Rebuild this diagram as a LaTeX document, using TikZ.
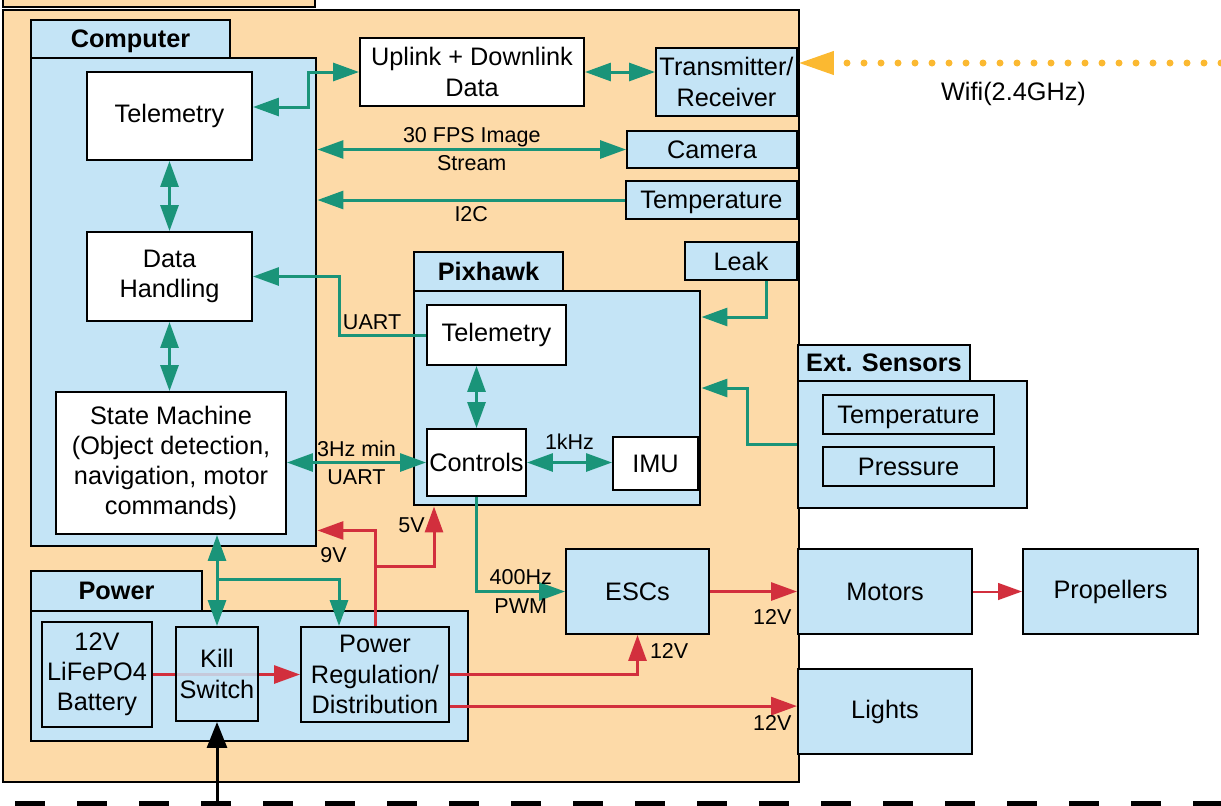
\documentclass[tikz,border=0pt]{standalone}
\usepackage{fontspec}
\setmainfont{Liberation Sans}
\usepackage{tikz}
\usetikzlibrary{arrows.meta,positioning,calc}

\definecolor{peach}{HTML}{FDDAA8}
\definecolor{skyblue}{HTML}{C4E4F6}
\definecolor{sigteal}{HTML}{1A9479}
\definecolor{pwrred}{HTML}{D22F3D}
\definecolor{wifiyel}{HTML}{FBB931}

\begin{document}
\begin{tikzpicture}[x=0.25mm,y=-0.25mm,>={Triangle[length=6.5mm,width=4.5mm]},
  font=\fontsize{18}{21.5}\selectfont,
  encl/.style={draw,line width=2.1pt,inner sep=1pt,align=center},
  tab/.style={encl,fill=skyblue,text depth=0pt,font=\fontsize{18}{21.5}\selectfont\bfseries},
  wbox/.style={draw,line width=1.4pt,fill=white,inner sep=1pt,align=center},
  bbox/.style={wbox,fill=skyblue},
  sig/.style={draw=sigteal,line width=0.75mm},
  pwr/.style={draw=pwrred,line width=0.75mm},
  lbl/.style={font=\fontsize{15.3}{18}\selectfont,inner sep=1pt,text=black}]
  \useasboundingbox (0,0) rectangle (1221,806);
  \clip (0,0) rectangle (1221,806);

  % frame cut off at the top, hull, tether
  \draw[line width=2.1pt,fill=peach] (3,-20) rectangle (315,7);
  \node[encl,fill=peach,minimum width=199mm,minimum height=193mm] (hull) at (401,396) {};
  \draw[line width=1.75mm,dash pattern=on 7.5mm off 8mm,dash phase=11.75mm] (0,804) -- (1221,804);

  \node[tab,minimum width=49.75mm,minimum height=9.5mm] (comptab) at (130.5,39) {Computer};
  \node[encl,fill=skyblue,minimum width=71.25mm,minimum height=122mm] (comp) at (173.5,302) {};
  \node[wbox,minimum width=41.25mm,minimum height=22mm] (ctele) at (169.5,116) {Telemetry};
  \node[wbox,minimum width=41.25mm,minimum height=22.25mm] (data) at (169.5,276.5) {Data\\Handling};
  \node[wbox,minimum width=57.5mm,minimum height=35.5mm] (state) at (171,463) {State Machine\\(Object detection,\\navigation, motor\\commands)};

  \node[wbox,minimum width=56mm,minimum height=17mm] (link) at (472,72) {Uplink + Downlink\\Data};
  \node[bbox,minimum width=35.25mm,minimum height=17mm] (radio) at (726.5,82) {Transmitter/\\Receiver};
  \node[bbox,minimum width=42.5mm,minimum height=9.25mm] (camera) at (712,149.5) {Camera};
  \node[bbox,text depth=0pt,minimum width=42.75mm,minimum height=9.5mm] (itemp) at (711.5,200) {Temperature};
  \node[bbox,minimum width=28mm,minimum height=9.5mm] (leak) at (741,261) {Leak};

  \node[tab,minimum width=37.25mm,minimum height=9.75mm] (pxtab) at (488.5,271.5) {Pixhawk};
  \node[encl,fill=skyblue,minimum width=71.5mm,minimum height=53.5mm] (px) at (557,398) {};
  \node[wbox,minimum width=34.75mm,minimum height=15mm] (ptele) at (496.5,335) {Telemetry};
  \node[wbox,minimum width=24.75mm,minimum height=16.75mm] (ctrl) at (476.5,462.5) {Controls};
  \node[wbox,minimum width=21.25mm,minimum height=13.25mm] (imu) at (655.5,463.5) {IMU};

  \node[tab,minimum width=43mm,minimum height=9mm] (exttab) at (884,363) {Ext. Sensors};
  \node[encl,fill=skyblue,minimum width=57.25mm,minimum height=31.75mm] (ext) at (912.5,444.5) {};
  \node[bbox,text depth=0pt,minimum width=42.75mm,minimum height=9.75mm] (etemp) at (908.5,414.5) {Temperature};
  \node[bbox,minimum width=42.75mm,minimum height=9.75mm] (press) at (908.5,466.5) {Pressure};

  \node[tab,minimum width=42.75mm,minimum height=10mm] (pwrtab) at (116.5,591) {Power};
  \node[encl,fill=skyblue,minimum width=109.25mm,minimum height=32.5mm] (pwr) at (249.5,676) {};
  \node[bbox,minimum width=27.5mm,minimum height=26.25mm] (batt) at (97,674.5) {12V\\LiFePO4\\Battery};
  \node[bbox,minimum width=37mm,minimum height=23.75mm] (reg) at (375,674.5) {Power\\Regulation/\\Distribution};
  \draw[pwr,->] (batt.east) -- (reg.west);
  \node[bbox,fill opacity=0.85,text opacity=1,minimum width=20.5mm,minimum height=23.5mm] (kill) at (217,674) {Kill\\Switch};

  \node[bbox,minimum width=35.75mm,minimum height=21.25mm] (esc) at (637.5,591.5) {ESCs};
  \node[bbox,minimum width=43.5mm,minimum height=21.25mm] (motor) at (885,591.5) {Motors};
  \node[bbox,minimum width=43.75mm,minimum height=21.25mm] (prop) at (1110.5,591.5) {Propellers};
  \node[bbox,minimum width=43.5mm,minimum height=21.25mm] (light) at (885,711.5) {Lights};

  % data links
  \draw[sig,<->] ([yshift=2.25mm]ctele.east) -- ++(56,0) |- (link.west);
  \draw[sig,<->] (link.east) -- (link.east -| radio.west);
  \draw[sig,<->] (comp.east |- camera.west) -- node[lbl,above=-0.2mm]{30 FPS Image} node[lbl,below=0.8mm]{Stream} (camera.west);
  \draw[sig,->] (itemp.west) -- node[lbl,below=0.8mm]{I2C} (itemp.west -| comp.east);
  \draw[sig,<->] (ctele.south) -- (data.north);
  \draw[sig,<->] (data.south) -- (data.south |- state.north);
  \draw[sig,->] (ptele.west) -- node[lbl,pos=0.62,above=0.6mm]{UART} ++(-87,0) |- (data.east);
  \draw[sig,<->] (state.east |- ctrl.west) -- node[lbl,above=0.6mm]{3Hz min} node[lbl,below=1mm]{UART} (ctrl.west);
  \draw[sig,<->] (ctrl.north |- ptele.south) -- (ctrl.north);
  \draw[sig,<->] (ctrl.east) -- node[lbl,above=2.5mm]{1kHz} (ctrl.east -| imu.west);
  \draw[sig,->] ([xshift=6.25mm]leak.south) |- ([yshift=20.25mm]px.east);
  \draw[sig,->] (ext.west) -- ++(-49,0) |- ([yshift=2.5mm]px.east);
  \draw[sig,->] (ctrl.south) |- node[lbl,pos=0.75,above=1mm]{400Hz} node[lbl,pos=0.75,below=1mm]{PWM} (esc.west);
  \draw[sig,<->] (kill.north |- state.south) -- (kill.north);
  \coordinate (split) at (217,579);
  \draw[sig,->] (split) -| ([xshift=-9mm]reg.north);

  % power lines
  \draw[pwr,->] (reg.north) |- ([yshift=4.25mm]comp.south east) node[lbl,anchor=north west,yshift=-3.6mm]{9V};
  \draw[pwr,->] ([yshift=15mm]reg.north) -| ([xshift=-30.75mm]px.south) node[lbl,anchor=north east,xshift=-1.6mm,yshift=-2.1mm]{5V};
  \draw[pwr,->] (reg.east) -| (esc.south) node[lbl,anchor=north west,xshift=2.4mm,yshift=-1.4mm]{12V};
  \coordinate (reglo) at ([yshift=-7.9mm]reg.east);
  \draw[pwr,->] (reglo) -- (reglo -| light.west) node[lbl,anchor=north east,xshift=-0.65mm,yshift=-1.65mm]{12V};
  \draw[pwr,->] (esc.east) -- (motor.west) node[lbl,anchor=north east,xshift=-0.65mm,yshift=-3.65mm]{12V};
  \draw[pwr,line width=0.5mm,-{Triangle[length=6mm,width=4.2mm]}] (motor.east) -- (prop.west);

  % wireless and tether
  \coordinate (wifi) at (1221,63);
  \draw[draw=wifiyel,line width=1.75mm,line cap=round,dash pattern=on 0pt off 4.25mm,-{Triangle[length=9mm,width=5.5mm]}] (wifi) -- (wifi -| radio.east) node[lbl,midway,below=3.6mm,xshift=1mm,font=\fontsize{18}{21.5}\selectfont]{Wifi(2.4GHz)};
  \coordinate (tether) at (217,806);
  \draw[line width=0.75mm,-{Triangle[length=6.5mm,width=5mm]}] (tether) -- (kill.south);
\end{tikzpicture}
\end{document}
